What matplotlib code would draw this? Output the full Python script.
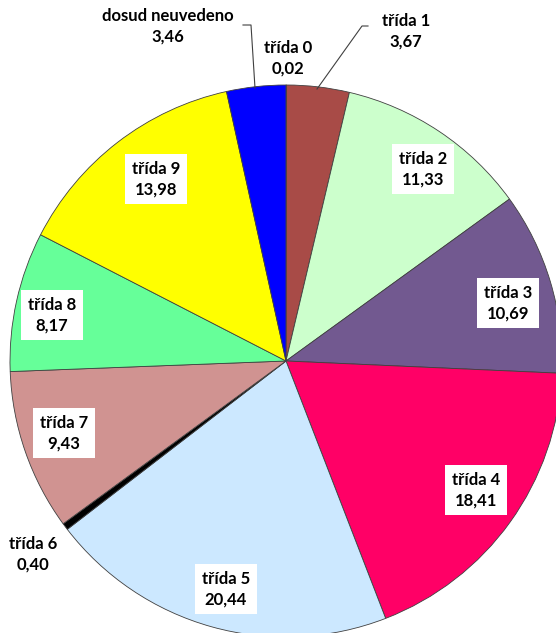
import matplotlib.pyplot as plt

labels = ['třída 0', 'třída 1', 'třída 2', 'třída 3', 'třída 4', 'třída 5',
          'třída 6', 'třída 7', 'třída 8', 'třída 9', 'dosud neuvedeno']
values = [0.02, 3.67, 11.33, 10.69, 18.41, 20.44, 0.40, 9.43, 8.17, 13.98, 3.46]
value_text = ['0,02', '3,67', '11,33', '10,69', '18,41', '20,44',
              '0,40', '9,43', '8,17', '13,98', '3,46']
colors = ['#993366', '#A84B47', '#CCFFCC', '#725990', '#FF0066', '#CCE8FF',
          '#000000', '#D09391', '#66FF99', '#FFFF00', '#0000FF']

W, H = 556, 633
cx, cy, r = 286, H - 361, 276

# label centers in pixel coords (y from top), boxed = inside the slice
label_pos = [(288, 58), (406, 31), (423, 169), (508, 303), (476, 490), (226, 589),
             (33, 554), (64, 433), (52, 315), (156, 179), (168, 26)]
boxed = [False, False, True, True, True, True, False, True, True, True, False]

fig = plt.figure(figsize=(W / 100, H / 100), dpi=100)
ax = fig.add_axes([0, 0, 1, 1])
ax.pie(values, colors=colors, startangle=90, counterclock=False,
       center=(cx, cy), radius=r,
       wedgeprops=dict(edgecolor='#404040', linewidth=0.6))
ax.set_xlim(0, W)
ax.set_ylim(0, H)
ax.set_aspect('equal')
ax.axis('off')

for i in range(len(labels)):
    x, y = label_pos[i]
    txt = labels[i] + '\n' + value_text[i]
    kw = dict(ha='center', va='center', fontsize=12, fontweight='bold',
              family=['Lato', 'DejaVu Sans'], linespacing=1.35, color='black')
    if boxed[i]:
        kw['bbox'] = dict(boxstyle='square,pad=0.4', fc='white', ec='none')
    ax.text(x, H - y, txt, **kw)

# leader lines
ax.plot([243, 251, 255], [H - 25, H - 25, H - 88], color='#404040', lw=0.8)
ax.plot([368, 362, 317], [H - 26, H - 26, H - 89], color='#404040', lw=0.8)

fig.savefig('out.png', dpi=100)
